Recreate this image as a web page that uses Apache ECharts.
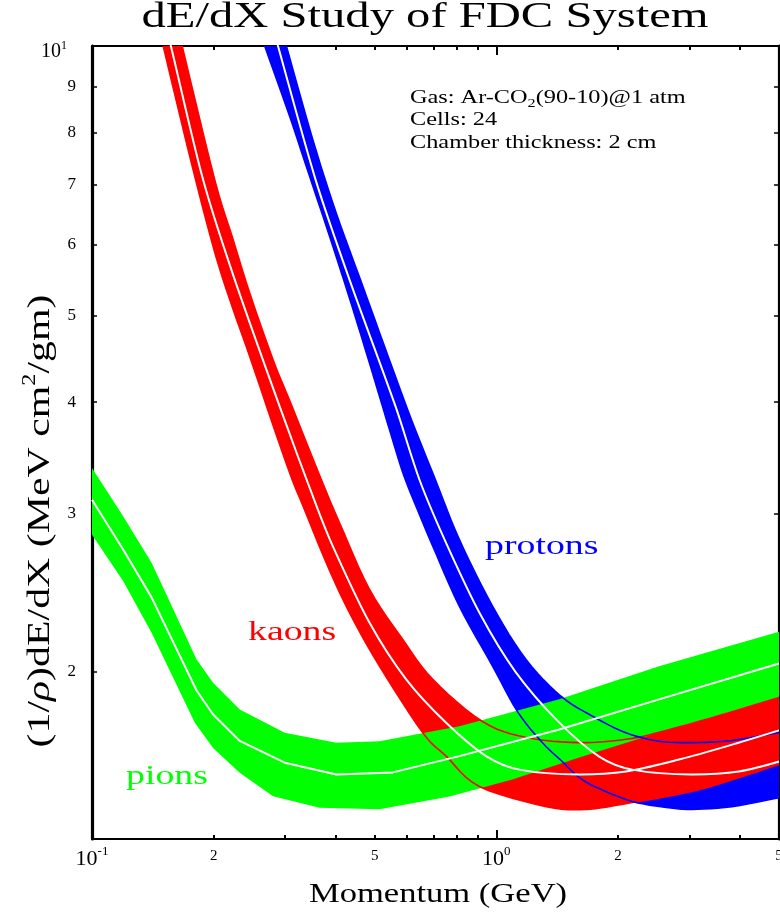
<!DOCTYPE html>
<html>
<head>
<meta charset="utf-8">
<script src="https://cdn.jsdelivr.net/npm/echarts@6/dist/echarts.min.js"></script>
<style>html,body{margin:0;padding:0;background:#fff}#c{width:780px;height:913px}</style>
</head>
<body>
<div id="c"></div>
<script>
// ---- axis ticks / labels ----
const xTickValues = [0.2, 0.3, 0.4, 0.5, 0.6, 0.7, 0.8, 0.9, 2, 3, 4];
const xMajorTickValues = [1];
const xLabelValues = [0.1, 0.2, 0.5, 1, 2, 5];
const yTickValues = [2, 3, 4, 5, 6, 7, 8, 9];
const yLabelValues = [2, 3, 4, 5, 6, 7, 8, 9, 10];

// ---- pions: [momentum GeV, dE/dx] ----
const pionUpper = [[0.1,3.377],[0.1195,2.981],[0.1405,2.645],[0.1814,2.063],[0.1993,1.943],[0.2319,1.814],[0.2996,1.709],[0.4019,1.665],[0.5143,1.672],[0.8103,1.738],[1.431,1.862],[2.526,2.027],[5,2.216]];
const pionCenter = [[0.1,3.112],[0.1195,2.736],[0.1405,2.419],[0.1814,1.905],[0.1993,1.791],[0.2319,1.673],[0.2996,1.582],[0.4019,1.535],[0.5546,1.543],[0.8103,1.609],[1.431,1.723],[2.526,1.862],[5,2.042]];
const pionLower = [[0.1,2.844],[0.1195,2.523],[0.1405,2.209],[0.1796,1.753],[0.1993,1.643],[0.2319,1.542],[0.2804,1.451],[0.3656,1.409],[0.5143,1.403],[0.7656,1.450],[1.095,1.515],[1.603,1.603],[2.526,1.710],[5,1.871]];

// ---- kaons ----
const kaonUpper = [[0.1606,10.8],[0.1671,10],[0.2012,7.087],[0.2234,6.074],[0.2455,5.296],[0.2804,4.461],[0.3100,3.990],[0.3692,3.276],[0.4096,2.931],[0.4858,2.470],[0.5870,2.172],[0.6965,1.960],[0.9234,1.759],[1.186,1.688],[1.603,1.666],[2.094,1.680],[2.570,1.714],[3.553,1.786],[5,1.871]];
const kaonCenter = [[0.1501,10.8],[0.1567,10],[0.1883,7.087],[0.2226,5.574],[0.2911,3.956],[0.3594,3.059],[0.3942,2.760],[0.4858,2.267],[0.5984,1.960],[0.7513,1.753],[0.9432,1.609],[1.140,1.554],[1.603,1.535],[2.094,1.547],[2.830,1.595],[3.761,1.653],[5,1.719]];
const kaonLower = [[0.1440,10.8],[0.1500,10],[0.1746,7.52],[0.1993,5.970],[0.2192,5.205],[0.2455,4.499],[0.2846,3.695],[0.3127,3.276],[0.3329,3.059],[0.3797,2.645],[0.4335,2.326],[0.5143,2.027],[0.6577,1.709],[0.7513,1.609],[0.9078,1.488],[1.329,1.413],[1.668,1.403],[2.167,1.428],[3.171,1.476],[5,1.575]];

// ---- protons ----
const protonUpper = [[0.2883,10.8],[0.3025,10],[0.3518,7.853],[0.4019,6.505],[0.4677,5.386],[0.5381,4.519],[0.6167,3.823],[0.7068,3.276],[0.8103,2.808],[0.9792,2.365],[1.184,2.063],[1.445,1.877],[1.729,1.783],[2.090,1.709],[2.526,1.672],[3.048,1.666],[3.826,1.675],[5,1.710]];
const protonCenter = [[0.2754,10.8],[0.2884,10],[0.3573,7.087],[0.4335,5.479],[0.5632,3.956],[0.6455,3.276],[0.7504,2.787],[0.9131,2.316],[1.114,2.0],[1.415,1.763],[1.796,1.607],[2.167,1.554],[3.048,1.535],[3.981,1.547],[5,1.587]];
const protonLower = [[0.2522,10.8],[0.2674,10],[0.3083,8.340],[0.3389,7.333],[0.3870,6.126],[0.4385,5.138],[0.4912,4.347],[0.5443,3.726],[0.5894,3.319],[0.6381,3.033],[0.6965,2.760],[0.8103,2.365],[0.9792,2.027],[1.127,1.805],[1.299,1.666],[1.455,1.587],[1.603,1.523],[1.796,1.480],[2.167,1.432],[2.630,1.410],[3.048,1.403],[3.826,1.413],[5,1.446]];

const FONT = '"Liberation Serif", "Times New Roman", serif';
const BLUE = '#0000ff', RED = '#ff0000', GREEN = '#00ff00';

// Catmull-Rom densification in pixel space (rendering only)
function smoothPx(px, sub) {
  if (sub <= 1) return px;
  const out = [], n = px.length;
  for (let i = 0; i < n - 1; i++) {
    const p0 = px[Math.max(i - 1, 0)], p1 = px[i], p2 = px[i + 1], p3 = px[Math.min(i + 2, n - 1)];
    for (let j = 0; j < sub; j++) {
      const t = j / sub, t2 = t * t, t3 = t2 * t;
      const f = k => 0.5 * (2 * p1[k] + (-p0[k] + p2[k]) * t + (2 * p0[k] - 5 * p1[k] + 4 * p2[k] - p3[k]) * t2 + (-p0[k] + 3 * p1[k] - 3 * p2[k] + p3[k]) * t3);
      out.push([f(0), f(1)]);
    }
  }
  out.push(px[n - 1]);
  return out;
}
function clipRect(cs) {
  return { type: 'rect', shape: { x: cs.x, y: cs.y, width: cs.width, height: cs.height } };
}
function bandFill(name, upper, lower, color, sub) {
  return {
    type: 'custom', name: name, clip: true, silent: true,
    xAxisIndex: 0, yAxisIndex: 0, data: [[1, 2]],
    renderItem: function (params, api) {
      const up = smoothPx(upper.map(d => api.coord(d)), sub);
      const lo = smoothPx(lower.map(d => api.coord(d)), sub);
      return {
        type: 'group', clipPath: clipRect(params.coordSys),
        children: [{ type: 'polygon', shape: { points: up.concat(lo.slice().reverse()) }, style: { fill: color, stroke: null } }]
      };
    }
  };
}
function bandEdges(name, upper, lower, color, sub) {
  return {
    type: 'custom', name: name, clip: true, silent: true,
    xAxisIndex: 0, yAxisIndex: 0, data: [[1, 2]],
    renderItem: function (params, api) {
      const mk = arr => ({ type: 'polyline', shape: { points: smoothPx(arr.map(d => api.coord(d)), sub) }, style: { stroke: color, lineWidth: 1.6, fill: null } });
      return { type: 'group', clipPath: clipRect(params.coordSys), children: [mk(upper), mk(lower)] };
    }
  };
}
function curve(name, data, color, width, smooth) {
  return {
    type: 'line', name: name, data: data, xAxisIndex: 0, yAxisIndex: 0,
    symbol: 'none', showSymbol: false, silent: true, clip: true, smooth: smooth,
    lineStyle: { color: color, width: width }
  };
}

const xRich = {
  b: { fontSize: 22, lineHeight: 28, fontFamily: FONT, color: '#000' },
  s: { fontSize: 13, verticalAlign: 'top', fontFamily: FONT, color: '#000' },
  m: { fontSize: 15, fontFamily: FONT, color: '#000', padding: [4, 0, 0, 0] }
};
function xFmt(v) {
  const r = Math.round(v * 1000) / 1000;
  if (r === 0.1) return '{b|10}{s|-1}';
  if (r === 1) return '{b|10}{s|0}';
  const mant = r < 1 ? Math.round(r * 10) : r;
  return '{m|' + mant + '}';
}
const yRich = {
  d: { fontSize: 17, fontFamily: FONT, color: '#000' },
  b: { fontSize: 20, lineHeight: 24, padding: [12, 0, 0, 0], fontFamily: FONT, color: '#000' },
  s: { fontSize: 12, verticalAlign: 'middle', padding: [0, 9, 0, 0], fontFamily: FONT, color: '#000' }
};
function yFmt(v) {
  const r = Math.round(v * 1000) / 1000;
  if (r === 10) return '{b|10}{s|1}';
  return '{d|' + r + '}';
}

function xAxisDef(pos, ticks, len, labels) {
  return {
    type: 'log', min: 0.1, max: 5, position: pos,
    axisLine: { show: len === 4, onZero: false, lineStyle: { color: '#000', width: 2.2 } },
    axisTick: { show: true, inside: true, length: len, customValues: ticks, lineStyle: { color: '#000', width: 2 } },
    axisLabel: labels ? { show: true, customValues: xLabelValues, formatter: xFmt, rich: xRich, margin: 6, fontSize: 15, fontFamily: FONT, color: '#000' } : { show: false },
    splitLine: { show: false }, minorTick: { show: false }
  };
}
function yAxisDef(pos, labels) {
  return {
    type: 'log', min: 1.3, max: 10, position: pos,
    axisLine: { show: true, onZero: false, lineStyle: { color: '#000', width: 3.2 } },
    axisTick: { show: true, inside: true, length: 5, customValues: yTickValues, lineStyle: { color: '#000', width: 1.5 } },
    axisLabel: labels ? { show: true, customValues: yLabelValues, formatter: yFmt, rich: yRich, margin: 16, fontSize: 17, fontFamily: FONT, color: '#000' } : { show: false },
    splitLine: { show: false }, minorTick: { show: false }
  };
}

const chart = echarts.init(document.getElementById('c'), null, { renderer: 'canvas' });
chart.setOption({
  animation: false,
  backgroundColor: '#fff',
  textStyle: { fontFamily: FONT },
  grid: { left: 92, right: 1, top: 46, bottom: 74, outerBoundsMode: 'none', containLabel: false },
  xAxis: [
    xAxisDef('bottom', xTickValues, 4, true),
    xAxisDef('top', xTickValues, 4, false),
    xAxisDef('bottom', xMajorTickValues, 9, false),
    xAxisDef('top', xMajorTickValues, 9, false)
  ],
  yAxis: [yAxisDef('left', true), yAxisDef('right', false)],
  series: [
    bandFill('protons', protonUpper, protonLower, BLUE, 6),
    bandFill('kaons', kaonUpper, kaonLower, RED, 6),
    bandFill('pions', pionUpper, pionLower, GREEN, 1),
    bandEdges('kaon band edges', kaonUpper, kaonLower, RED, 6),
    bandEdges('proton band edges', protonUpper, protonLower, BLUE, 6),
    curve('pion center', pionCenter, '#ffffff', 2, false),
    curve('kaon center', kaonCenter, '#ffffff', 2, 0.3),
    curve('proton center', protonCenter, '#ffffff', 2, 0.3)
  ],
  graphic: { elements: [
    { type: 'text', x: 425, y: 18, scaleX: 1.35, z: 100,
      style: { text: 'dE/dX Study of FDC System', font: '36px ' + FONT, fill: '#000', align: 'center', verticalAlign: 'middle', textAlign: 'center', textVerticalAlign: 'middle' } },
    { type: 'text', x: 410, y: 98, scaleX: 1.35, z: 100,
      style: { text: 'Gas: Ar-CO{sub|2}(90-10)@1 atm', font: '18px ' + FONT, lineHeight: 24, fill: '#000', align: 'left', verticalAlign: 'middle', textAlign: 'left', textVerticalAlign: 'middle',
        rich: { sub: { fontSize: 12, fontFamily: FONT, verticalAlign: 'bottom', lineHeight: 12, fill: '#000' } } } },
    { type: 'text', x: 410, y: 120, scaleX: 1.35, z: 100,
      style: { text: 'Cells: 24', font: '18px ' + FONT, fill: '#000', align: 'left', verticalAlign: 'middle', textAlign: 'left', textVerticalAlign: 'middle' } },
    { type: 'text', x: 410, y: 143, scaleX: 1.35, z: 100,
      style: { text: 'Chamber thickness: 2 cm', font: '18px ' + FONT, fill: '#000', align: 'left', verticalAlign: 'middle', textAlign: 'left', textVerticalAlign: 'middle' } },
    { type: 'text', x: 485, y: 547, scaleX: 1.35, z: 100,
      style: { text: 'protons', font: '28px ' + FONT, fill: BLUE, align: 'left', verticalAlign: 'middle', textAlign: 'left', textVerticalAlign: 'middle' } },
    { type: 'text', x: 248, y: 633, scaleX: 1.35, z: 100,
      style: { text: 'kaons', font: '28px ' + FONT, fill: RED, align: 'left', verticalAlign: 'middle', textAlign: 'left', textVerticalAlign: 'middle' } },
    { type: 'text', x: 126, y: 777, scaleX: 1.35, z: 100,
      style: { text: 'pions', font: '28px ' + FONT, fill: GREEN, align: 'left', verticalAlign: 'middle', textAlign: 'left', textVerticalAlign: 'middle' } },
    { type: 'text', x: 438, y: 895, scaleX: 1.28, z: 100,
      style: { text: 'Momentum (GeV)', font: '27px ' + FONT, fill: '#000', align: 'center', verticalAlign: 'middle', textAlign: 'center', textVerticalAlign: 'middle' } },
    { type: 'text', x: 41, y: 521, rotation: Math.PI / 2, scaleX: 1.35, z: 100,
      style: { text: '(1/{i|ρ})dE/dX (MeV cm{s|2}/gm)', font: '31px ' + FONT, lineHeight: 40, fill: '#000', align: 'center', verticalAlign: 'middle', textAlign: 'center', textVerticalAlign: 'middle',
        rich: {
          i: { fontSize: 31, fontFamily: FONT, fontStyle: 'italic', verticalAlign: 'middle', lineHeight: 40, fill: '#000' },
          s: { fontSize: 18, fontFamily: FONT, verticalAlign: 'top', lineHeight: 18, fill: '#000' }
        } } }
  ] }
});
</script>
</body>
</html>
